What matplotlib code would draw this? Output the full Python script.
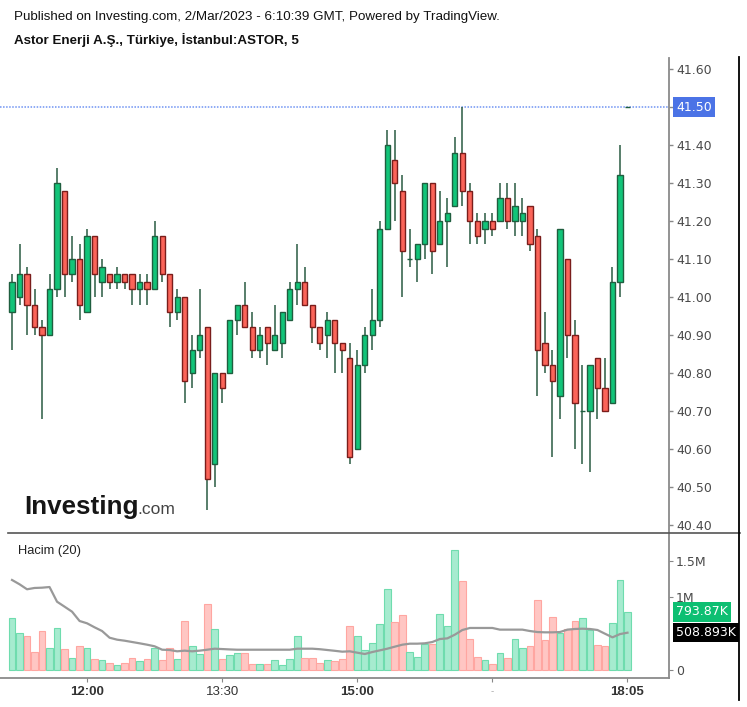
import matplotlib.pyplot as plt
import matplotlib.transforms as mtransforms
from matplotlib.lines import Line2D
import numpy as np

plt.rcParams['font.family'] = ['Liberation Sans', 'DejaVu Sans']

# 5 minute candles, ASTOR, 2 Mar 2023
opens = [40.96, 41.00, 41.06, 40.98, 40.92, 40.90, 41.02, 41.28, 41.06, 41.10,
         40.96, 41.16, 41.04, 41.06, 41.04, 41.06, 41.06, 41.02, 41.04, 41.02,
         41.16, 41.06, 40.96, 41.00, 40.80, 40.86, 40.92, 40.56, 40.80, 40.80,
         40.94, 40.98, 40.92, 40.86, 40.92, 40.86, 40.88, 40.94, 41.02, 41.04,
         40.98, 40.92, 40.90, 40.94, 40.88, 40.84, 40.60, 40.82, 40.90, 40.94,
         41.18, 41.36, 41.28, 41.10, 41.10, 41.14, 41.30, 41.14, 41.20, 41.24,
         41.38, 41.28, 41.20, 41.18, 41.20, 41.20, 41.26, 41.20, 41.20, 41.24,
         41.16, 40.88, 40.82, 40.74, 41.10, 40.90, 40.70, 40.70, 40.84, 40.76,
         40.72, 41.04, 41.50]
highs = [41.06, 41.14, 41.08, 41.02, 40.94, 41.06, 41.34, 41.28, 41.16, 41.14,
         41.18, 41.16, 41.10, 41.06, 41.08, 41.06, 41.06, 41.06, 41.06, 41.20,
         41.16, 41.06, 41.02, 41.00, 40.90, 41.02, 40.92, 40.80, 40.80, 40.94,
         40.98, 41.04, 40.96, 40.92, 40.92, 40.98, 40.96, 41.04, 41.14, 41.08,
         40.98, 40.92, 40.96, 40.94, 40.88, 40.88, 40.86, 40.92, 41.02, 41.20,
         41.44, 41.44, 41.32, 41.18, 41.14, 41.30, 41.30, 41.28, 41.26, 41.42,
         41.50, 41.30, 41.22, 41.22, 41.22, 41.30, 41.30, 41.30, 41.26, 41.24,
         41.18, 40.96, 40.86, 41.18, 41.10, 40.94, 40.82, 40.82, 40.84, 40.84,
         41.08, 41.40, 41.50]
lows = [40.86, 40.98, 40.90, 40.90, 40.68, 40.90, 41.00, 41.00, 41.04, 40.94,
        40.96, 41.00, 41.00, 41.02, 41.02, 41.02, 40.98, 40.98, 40.98, 41.02,
        41.04, 40.92, 40.94, 40.72, 40.76, 40.84, 40.44, 40.50, 40.72, 40.80,
        40.90, 40.92, 40.84, 40.84, 40.82, 40.86, 40.84, 40.94, 40.98, 40.98,
        40.88, 40.86, 40.84, 40.80, 40.80, 40.56, 40.60, 40.80, 40.86, 40.92,
        41.18, 41.20, 41.00, 41.08, 41.04, 41.10, 41.06, 41.14, 41.08, 41.24,
        41.24, 41.14, 41.14, 41.14, 41.16, 41.20, 41.18, 41.16, 41.16, 41.12,
        40.74, 40.80, 40.58, 40.68, 40.84, 40.60, 40.56, 40.54, 40.68, 40.70,
        40.72, 41.00, 41.50]
closes = [41.04, 41.06, 40.98, 40.92, 40.90, 41.02, 41.30, 41.06, 41.10, 40.98,
          41.16, 41.06, 41.08, 41.04, 41.06, 41.04, 41.02, 41.04, 41.02, 41.16,
          41.06, 40.96, 41.00, 40.78, 40.86, 40.90, 40.52, 40.80, 40.76, 40.94,
          40.98, 40.92, 40.86, 40.90, 40.88, 40.90, 40.96, 41.02, 41.04, 40.98,
          40.92, 40.88, 40.94, 40.88, 40.86, 40.58, 40.82, 40.90, 40.94, 41.18,
          41.40, 41.30, 41.12, 41.10, 41.14, 41.30, 41.12, 41.20, 41.22, 41.38,
          41.28, 41.20, 41.16, 41.20, 41.18, 41.26, 41.20, 41.24, 41.22, 41.14,
          40.86, 40.82, 40.78, 41.18, 40.90, 40.72, 40.70, 40.82, 40.76, 40.70,
          41.04, 41.32, 41.50]
# volume in millions, and its 20 period average
volumes = [0.715, 0.51, 0.46, 0.25, 0.53, 0.30, 0.58, 0.28, 0.165, 0.32,
           0.30, 0.147, 0.128, 0.096, 0.06, 0.096, 0.165, 0.115, 0.147, 0.30,
           0.128, 0.30, 0.147, 0.67, 0.32, 0.215, 0.90, 0.555, 0.147, 0.197,
           0.234, 0.234, 0.078, 0.078, 0.078, 0.128, 0.06, 0.147, 0.47, 0.165,
           0.165, 0.096, 0.128, 0.115, 0.147, 0.596, 0.46, 0.266, 0.37, 0.63,
           1.11, 0.65, 0.75, 0.25, 0.18, 0.35, 0.35, 0.77, 0.596, 1.64,
           1.215, 0.42, 0.18, 0.128, 0.078, 0.234, 0.165, 0.42, 0.30, 0.32,
           0.96, 0.41, 0.73, 0.51, 0.56, 0.665, 0.715, 0.546, 0.335, 0.32,
           0.647, 1.23, 0.794]
vol_ma = [1.234, 1.175, 1.106, 1.124, 1.128, 1.137, 0.935, 0.867, 0.798, 0.67,
          0.638, 0.583, 0.532, 0.44, 0.413, 0.399, 0.381, 0.363, 0.344, 0.322,
          0.275, 0.271, 0.253, 0.262, 0.253, 0.262, 0.275, 0.289, 0.284, 0.279,
          0.275, 0.275, 0.275, 0.275, 0.275, 0.275, 0.275, 0.275, 0.289, 0.289,
          0.289, 0.282, 0.271, 0.26, 0.248, 0.253, 0.234, 0.216, 0.243, 0.266,
          0.289, 0.317, 0.344, 0.358, 0.358, 0.363, 0.381, 0.422, 0.431, 0.482,
          0.546, 0.574, 0.574, 0.574, 0.574, 0.551, 0.551, 0.551, 0.551, 0.532,
          0.518, 0.514, 0.514, 0.518, 0.551, 0.56, 0.564, 0.56, 0.546, 0.495,
          0.445, 0.49, 0.509]

time_ticks = [10, 28, 46, 64, 82]
time_labels = ['12:00', '13:30', '15:00', '-', '18:05']
time_bold = [True, False, True, False, True]
price_ticks = [40.40, 40.50, 40.60, 40.70, 40.80, 40.90, 41.00,
               41.10, 41.20, 41.30, 41.40, 41.50, 41.60]
vol_ticks = [0, 1.0, 1.5]
vol_tick_labels = ['0', '1M', '1.5M']
last_price = 41.50
last_vol_label = '793.87K'
last_ma_label = '508.893K'

W, H = 747, 707
fig = plt.figure(figsize=(W / 100, H / 100), dpi=100)

def fx(px):
    return px / W

def fy(py):
    return 1 - py / H

ax = fig.add_axes([0, fy(533), fx(669), fy(58) - fy(533)])
axv = fig.add_axes([0, fy(678), fx(669), fy(533) - fy(678)])

o = np.array(opens)
c = np.array(closes)
x = np.arange(len(o))
up = c >= o
bot = np.minimum(o, c)
hgt = np.abs(c - o)

# candles
ax.vlines(x, lows, highs, color='#2a5b42', lw=1.1, zorder=1)
ax.bar(x[up], hgt[up], bottom=bot[up], width=0.7, color='#12c479',
       edgecolor='#1f5e3f', lw=1, zorder=2)
ax.bar(x[~up], hgt[~up], bottom=bot[~up], width=0.7, color='#fb6459',
       edgecolor='#7a1d1b', lw=1, zorder=2)

ax.axhline(last_price, color='#6f93f2', ls=(0, (1, 1)), lw=1.1, zorder=0)

ax.set_xlim(-1.6, 87.53)
ax.set_ylim(40.379, 41.629)
ax.set_xticks([])
ax.yaxis.tick_right()
ax.set_yticks(price_ticks)
ax.set_yticklabels(['%.2f' % p for p in price_ticks])
ax.tick_params(axis='y', direction='out', length=3, width=1, color='#888888',
               labelcolor='#4a4a4a', labelsize=9, pad=2)
for lbl in ax.get_yticklabels():
    lbl.set_fontfamily('DejaVu Sans')
for s in ['left', 'top', 'bottom']:
    ax.spines[s].set_visible(False)
ax.spines['right'].set_color('#8a8a8a')
ax.spines['right'].set_linewidth(1.3)

tr = mtransforms.blended_transform_factory(ax.transAxes, ax.transData)
ax.annotate('%.2f' % last_price, xy=(1, last_price), xycoords=tr,
            xytext=(5, 0), textcoords='offset points', ha='left', va='center',
            color='white', fontsize=9, family='DejaVu Sans', annotation_clip=False,
            bbox=dict(boxstyle='square,pad=0.25', fc='#4b73e6', ec='none'))

# watermark
fig.text(fx(24), fy(514), 'Investing', fontsize=18.7, fontweight='bold',
         color='#161616', va='baseline', ha='left')
fig.text(fx(137), fy(514), '.com', fontsize=12.5, color='#444444',
         va='baseline', ha='left')

# volume
vcol = np.where(up, '#a6ebcf', '#ffc6c3')
vedge = np.where(up, '#6fdcae', '#ffa6a1')
axv.bar(x, volumes, width=0.9, color=vcol, edgecolor=vedge, lw=0.8)
axv.plot(x, vol_ma, color='#999999', lw=1.6)
axv.set_xlim(-1.6, 87.53)
axv.set_ylim(-0.114, 1.88)
axv.yaxis.tick_right()
axv.set_yticks(vol_ticks)
axv.set_yticklabels(vol_tick_labels)
axv.tick_params(axis='y', direction='out', length=3, color='#888888',
                labelcolor='#4a4a4a', labelsize=9, pad=2)
for lbl in axv.get_yticklabels():
    lbl.set_fontfamily('DejaVu Sans')
axv.set_xticks(time_ticks)
axv.set_xticklabels(time_labels)
axv.tick_params(axis='x', direction='out', length=3, color='#888888',
                labelcolor='#333333', labelsize=9.5, pad=3)
for lbl, b in zip(axv.get_xticklabels(), time_bold):
    if b:
        lbl.set_fontweight('bold')
    if lbl.get_text() == '-':
        lbl.set_color('#aaaaaa')
        lbl.set_fontsize(7)
for s in ['left', 'top']:
    axv.spines[s].set_visible(False)
for s in ['right', 'bottom']:
    axv.spines[s].set_color('#8a8a8a')
    axv.spines[s].set_linewidth(1.3)

trv = mtransforms.blended_transform_factory(axv.transAxes, axv.transData)
axv.annotate(last_vol_label, xy=(1, volumes[-1]), xycoords=trv,
             xytext=(5, 0), textcoords='offset points', ha='left', va='center',
             color='white', fontsize=9, family='DejaVu Sans', annotation_clip=False,
             bbox=dict(boxstyle='square,pad=0.25', fc='#0dbf72', ec='none'))
axv.annotate(last_ma_label, xy=(1, vol_ma[-1]), xycoords=trv,
             xytext=(5, 0), textcoords='offset points', ha='left', va='center',
             color='white', fontsize=9, family='DejaVu Sans', annotation_clip=False,
             bbox=dict(boxstyle='square,pad=0.25', fc='black', ec='none'))
fig.text(fx(18), fy(551), 'Hacim (20)', fontsize=9.3,
         color='#222222', va='center', ha='left')

# separator and right border
fig.add_artist(Line2D([fx(8), fx(740)], [fy(533), fy(533)], color='#555555', lw=1.2))
fig.add_artist(Line2D([fx(739), fx(739)], [fy(700), fy(57)], color='black', lw=1.3))

fig.text(fx(14), fy(17), 'Published on Investing.com, 2/Mar/2023 - 6:10:39 GMT, Powered by TradingView.',
         fontsize=9.6, color='#111111', va='center', ha='left')
fig.text(fx(14), fy(40), 'Astor Enerji A.Ş., Türkiye, İstanbul:ASTOR, 5',
         fontsize=9.6, fontweight='bold', color='#111111', va='center', ha='left')

fig.savefig('out.png', dpi=100)
